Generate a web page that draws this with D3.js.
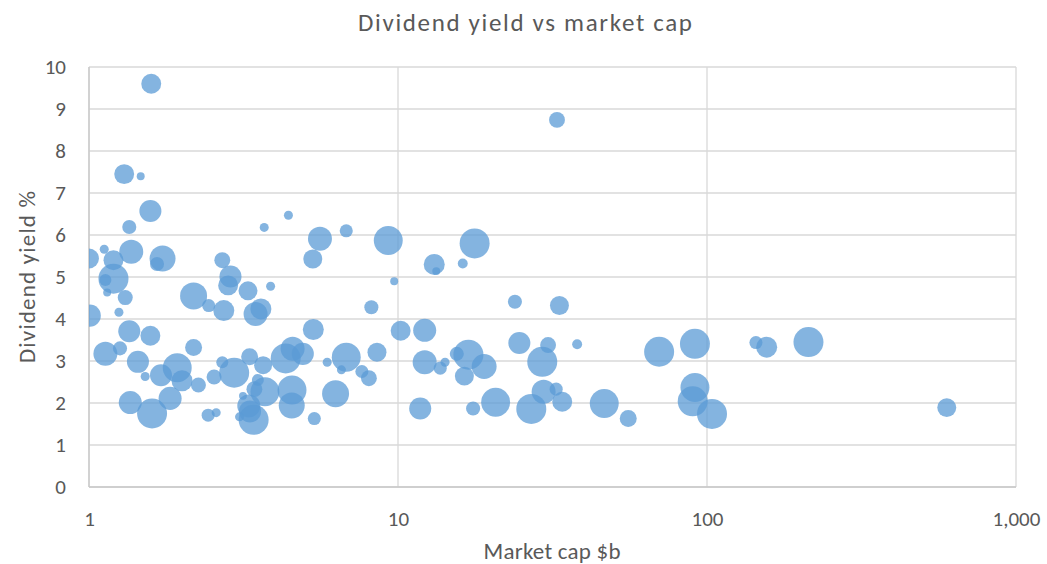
<!DOCTYPE html>
<html>
<head>
<meta charset="utf-8">
<script src="https://cdn.jsdelivr.net/npm/d3@7"></script>
<style>
  body { margin: 0; background: #fff; }
  text { font-family: Carlito, Calibri, Lato, "Liberation Sans", sans-serif; fill: #595959; }
</style>
</head>
<body>
<div id="chart"></div>
<script>
// market cap ($b), dividend yield (%), bubble size (relative)
var marketCap = [
  1.59, 1.30, 1.47, 1.58, 1.35, 1.12, 1.00, 1.20, 1.37, 1.66,
  1.73, 1.20, 1.13, 1.145, 1.31, 1.25, 1.006, 1.35, 1.58, 1.13,
  1.26, 1.44, 1.52, 1.71, 1.93, 2.00, 1.36, 1.60, 1.83, 2.18,
  2.18, 2.26, 2.43, 2.58, 2.44, 2.70, 2.87, 2.82, 2.73, 3.27,
  3.46, 3.60, 3.87, 3.69, 4.42, 2.54, 2.70, 2.95, 3.31, 3.66,
  3.71, 3.52, 3.43, 3.15, 3.29, 3.32, 3.41, 3.07, 4.33, 4.56,
  4.92, 4.54, 4.53, 5.36, 5.32, 5.30, 5.59, 6.80, 5.90, 6.28,
  6.80, 6.56, 7.64, 8.05, 8.20, 8.55, 9.30, 9.72, 10.2, 12.2,
  12.2, 11.8, 13.1, 13.3, 16.2, 17.7, 13.7, 14.2, 15.5, 16.9,
  19.0, 16.4, 17.5, 20.7, 27.0, 29.6, 32.5, 34.0, 29.3, 24.7,
  30.6, 38.0, 23.9, 33.3, 32.7, 46.5, 55.6, 70.0, 91.4, 91.4,
  89.9, 103.8, 144, 156, 213, 597
];
var divYield = [
  9.60, 7.45, 7.40, 6.57, 6.19, 5.66, 5.44, 5.40, 5.60, 5.31,
  5.44, 4.96, 4.93, 4.63, 4.51, 4.16, 4.08, 3.71, 3.60, 3.17,
  3.30, 2.98, 2.63, 2.66, 2.84, 2.53, 2.01, 1.75, 2.11, 4.55,
  3.32, 2.43, 1.71, 1.77, 4.32, 5.40, 5.01, 4.80, 4.20, 4.67,
  4.12, 4.24, 4.78, 6.18, 6.47, 2.62, 2.97, 2.72, 3.10, 2.90,
  2.27, 2.55, 2.33, 2.17, 1.93, 1.80, 1.60, 1.67, 3.06, 3.29,
  3.17, 2.31, 1.94, 1.63, 3.75, 5.43, 5.91, 6.10, 2.97, 2.22,
  3.09, 2.79, 2.75, 2.59, 4.28, 3.21, 5.87, 4.90, 3.72, 3.73,
  2.97, 1.87, 5.30, 5.14, 5.32, 5.80, 2.83, 2.97, 3.17, 3.15,
  2.87, 2.64, 1.87, 2.02, 1.86, 2.27, 2.33, 2.03, 2.98, 3.43,
  3.38, 3.40, 4.41, 4.32, 8.74, 1.99, 1.63, 3.22, 3.41, 2.37,
  2.04, 1.74, 3.44, 3.33, 3.45, 1.89
];
var bubbleSize = [
  44, 44, 7, 54, 22, 9, 44, 44, 64, 22,
  75, 100, 16, 7, 25, 9, 54, 54, 44, 64,
  22, 54, 9, 54, 93, 49, 59, 100, 59, 81,
  32, 25, 19, 9, 19, 28, 54, 44, 49, 40,
  64, 49, 9, 9, 9, 25, 16, 100, 32, 36,
  93, 16, 28, 7, 59, 54, 100, 9, 100, 64,
  54, 93, 75, 19, 49, 40, 64, 19, 9, 81,
  93, 9, 19, 28, 22, 40, 93, 7, 44, 59,
  64, 54, 49, 7, 11, 100, 19, 9, 22, 100,
  69, 40, 22, 93, 100, 64, 19, 44, 100, 54,
  28, 11, 22, 40, 28, 93, 32, 100, 100, 93,
  100, 100, 19, 49, 100, 40
];
var yTicks = [0, 1, 2, 3, 4, 5, 6, 7, 8, 9, 10];
var xTicks = [1, 10, 100, 1000];

var data = marketCap.map(function(d, i) {
  return { cap: d, yield: divYield[i], size: bubbleSize[i] };
});

var svgWidth = 1047;
var svgHeight = 564;
var margin = { top: 67, right: 31, bottom: 77, left: 89 };
var width = svgWidth - margin.left - margin.right;
var height = svgHeight - margin.top - margin.bottom;

var svg = d3.select("#chart")
  .append("svg")
    .attr("width", svgWidth)
    .attr("height", svgHeight);

var chart = svg.append("g")
  .attr("transform", `translate(${margin.left}, ${margin.top})`);

var xScale = d3.scaleLog().domain([1, 1000]).range([0, width]);
var yScale = d3.scaleLinear().domain([0, 10]).range([height, 0]);
var rScale = d3.scaleSqrt().domain([0, 100]).range([0, 15]);

// gridlines
chart.append("g")
  .selectAll("line")
  .data(yTicks)
  .enter()
  .append("line")
    .attr("x1", 0)
    .attr("x2", width)
    .attr("y1", d => yScale(d))
    .attr("y2", d => yScale(d))
    .attr("stroke", "#d9d9d9")
    .attr("stroke-width", 1.3);

chart.append("g")
  .selectAll("line")
  .data(xTicks)
  .enter()
  .append("line")
    .attr("x1", d => xScale(d))
    .attr("x2", d => xScale(d))
    .attr("y1", 0)
    .attr("y2", height)
    .attr("stroke", "#d9d9d9")
    .attr("stroke-width", 1.3);

// axis lines
chart.append("line")
  .attr("x1", 0).attr("x2", 0)
  .attr("y1", 0).attr("y2", height)
  .attr("stroke", "#c8c8c8").attr("stroke-width", 1.3);
chart.append("line")
  .attr("x1", 0).attr("x2", width)
  .attr("y1", height).attr("y2", height)
  .attr("stroke", "#c8c8c8").attr("stroke-width", 1.3);

// bubbles
svg.append("defs").append("clipPath").attr("id", "plot-clip")
  .append("rect").attr("x", 0).attr("y", -20).attr("width", width + 20).attr("height", height + 20);

chart.append("g")
  .attr("clip-path", "url(#plot-clip)")
  .selectAll("circle")
  .data(data)
  .enter()
  .append("circle")
    .attr("cx", d => xScale(d.cap))
    .attr("cy", d => yScale(d.yield))
    .attr("r", d => rScale(d.size))
    .style("fill", "#5B9BD5")
    .style("fill-opacity", 0.75);

// axes labels
var bottomAxis = d3.axisBottom(xScale)
  .tickValues(xTicks)
  .tickFormat(d3.format(","))
  .tickSize(0)
  .tickPadding(24);
var leftAxis = d3.axisLeft(yScale)
  .tickValues(yTicks)
  .tickSize(0)
  .tickPadding(23);

var xAxisG = chart.append("g")
  .attr("transform", `translate(0, ${height})`)
  .call(bottomAxis);
var yAxisG = chart.append("g")
  .call(leftAxis);

[xAxisG, yAxisG].forEach(function(g) {
  g.select(".domain").remove();
  g.selectAll("text")
    .style("font-family", "Carlito, Calibri, Lato, 'Liberation Sans', sans-serif")
    .style("font-size", "21px")
    .attr("fill", "#595959");
});

svg.append("text")
  .attr("x", 525)
  .attr("y", 31)
  .attr("text-anchor", "middle")
  .attr("textLength", 334)
  .attr("lengthAdjust", "spacing")
  .style("font-size", "25px")
  .text("Dividend yield vs market cap");

svg.append("text")
  .attr("x", 552)
  .attr("y", 559)
  .attr("text-anchor", "middle")
  .attr("textLength", 137)
  .attr("lengthAdjust", "spacing")
  .style("font-size", "23px")
  .text("Market cap $b");

svg.append("text")
  .attr("transform", "translate(35, 277) rotate(-90)")
  .attr("text-anchor", "middle")
  .attr("textLength", 172)
  .attr("lengthAdjust", "spacing")
  .style("font-size", "23px")
  .text("Dividend yield %");
</script>
</body>
</html>
